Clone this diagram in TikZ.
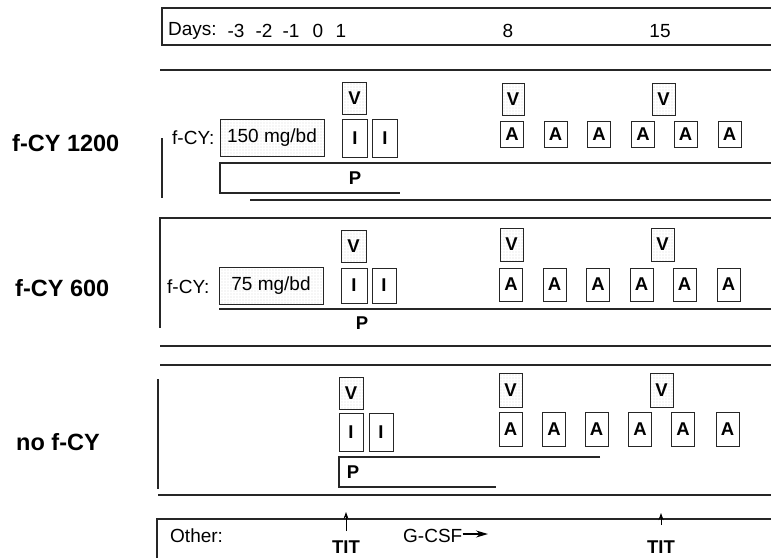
\documentclass[tikz,border=0pt]{standalone}
\usepackage{fontspec}
\setmainfont{Liberation Sans}
\usetikzlibrary{patterns.meta,arrows.meta}
\tikzset{
  frame/.style={line width=1.1pt, black!85},
  grp/.style={font=\fontsize{23.5}{26}\selectfont\bfseries, anchor=west, inner sep=0pt},
  txt/.style={font=\fontsize{19}{21}\selectfont, inner sep=0pt},
  boxbase/.style={draw=black!85, line width=0.9pt, inner sep=0pt, font=\fontsize{18.5}{20}\selectfont\bfseries},
  vbox/.style={boxbase, pattern={Dots[distance=3pt,radius=0.4pt]}, pattern color=black!45, minimum width=24pt, minimum height=32pt},
  ibox/.style={boxbase, minimum width=25pt, minimum height=37pt},
  abox/.style={boxbase, minimum width=23pt},
  dosebox/.style={draw=black!85, line width=0.9pt, inner sep=0pt, pattern={Dots[distance=3pt,radius=0.4pt]}, pattern color=black!45, minimum width=104pt, minimum height=37pt, font=\fontsize{19}{21}\selectfont},
  bold/.style={font=\fontsize{18.5}{20}\selectfont\bfseries, inner sep=0pt},
  uparrow/.style={line width=0.9pt, -{Stealth[length=7pt,width=5pt]}},
  rarrow/.style={line width=1.3pt, -{Stealth[length=12pt,width=7pt]}}
}
\begin{document}
\begin{tikzpicture}[x=1pt,y=-1pt]
\useasboundingbox (0,0) rectangle (771,558);

% ---- Days box
\draw[frame] (771,8) -- (162,8) -- (162,45) -- (771,45);
\node[txt, anchor=west] (days) at (168,31) {Days:};
\node[txt] (dm3) at (236,31) {-3};
\node[txt] (dm2) at (264,31) {-2};
\node[txt] (dm1) at (291,31) {-1};
\node[txt] (d0) at (318,31) {0};
\node[txt] (d1) at (341,31) {1};
\node[txt] (d8) at (508,31) {8};
\node[txt] (d15) at (660,31) {15};

% ---- Section 1: f-CY 1200
\draw[frame] (160,70) -- (771,70);
\draw[frame] (162,138) -- (162,198);
\draw[frame] (250,200) -- (771,200);
\node[grp] (g1) at (12,143) {f-CY 1200};
\node[txt, anchor=west] (f1) at (172,138) {f-CY:};
\node[dosebox] (dose1) at (272,138) {150 mg/bd};
\node[vbox] (v1a) at (354.5,98.5) {V};
\node[ibox, minimum height=38pt] (i1a) at (355,138) {I};
\node[ibox, minimum height=38pt] (i1b) at (385,138) {I};
\node[vbox, minimum width=22pt] (v1b) at (513,99) {V};
\node[vbox, minimum width=23pt] (v1c) at (663.5,99.5) {V};
\foreach \x [count=\k] in {512,555.5,599,643,685.5,729.5}
  \node[abox, minimum height=26pt] (a1\k) at (\x,134) {A};
\draw[frame] (771,163) -- (220,163) -- (220,193) -- (400,193);
\node[bold] (p1) at (355,178) {P};

% ---- Section 2: f-CY 600
\draw[frame] (771,218) -- (160,218) -- (160,328);
\draw[frame] (160,346) -- (771,346);
\node[grp] (g2) at (15,288) {f-CY 600};
\node[txt, anchor=west] (f2) at (167,287) {f-CY:};
\node[dosebox] (dose2) at (271,285.5) {75 mg/bd};
\node[vbox, minimum width=25pt] (v2a) at (353.5,246.5) {V};
\node[ibox, minimum width=26pt, minimum height=35pt] (i2a) at (354,285.5) {I};
\node[ibox, minimum width=24pt, minimum height=35pt] (i2b) at (384,285.5) {I};
\node[vbox, minimum width=23pt, minimum height=33pt] (v2b) at (511.5,244.5) {V};
\node[vbox, minimum width=23pt, minimum height=33pt] (v2c) at (662.5,244.5) {V};
\foreach \x [count=\k] in {511,554.5,598,641.5,684.5,728.5}
  \node[abox, minimum height=33pt] (a2\k) at (\x,284.5) {A};
\draw[frame] (219,309) -- (771,309);
\node[bold] (p2) at (362,323) {P};

% ---- Section 3: no f-CY
\draw[frame] (160,365) -- (771,365);
\draw[frame] (158,379) -- (158,489);
\draw[frame] (158,495) -- (771,495);
\node[grp] (g3) at (16,442) {no f-CY};
\node[vbox] (v3a) at (351,393) {V};
\node[ibox, minimum width=24pt, minimum height=38pt] (i3a) at (351,432) {I};
\node[ibox, minimum width=24pt, minimum height=38pt] (i3b) at (381,432) {I};
\node[vbox, minimum width=23pt, minimum height=34pt] (v3b) at (510.5,390) {V};
\node[vbox, minimum width=23pt, minimum height=34pt] (v3c) at (661.5,390) {V};
\foreach \x [count=\k] in {510.5,554,596.5,640,683,727.5}
  \node[abox, minimum height=34pt] (a3\k) at (\x,429) {A};
\draw[frame] (600,457) -- (339,457) -- (339,487) -- (496,487);
\node[bold] (p3) at (353,472) {P};

% ---- Other box
\draw[frame] (771,519) -- (157,519) -- (157,558);
\node[txt, anchor=west] (other) at (170,536) {Other:};
\node[bold] (tit1) at (346,547) {TIT};
\node[bold] (tit2) at (661,547) {TIT};
\node[txt, anchor=west] (gcsf) at (403,536) {G-CSF};
\coordinate (t1s) at (346,531);
\coordinate (t1e) at (346,512);
\coordinate (t2s) at (661,525);
\coordinate (t2e) at (661,513);
\coordinate (ge) at (488,534);
\draw[uparrow] (t1s) -- (t1e);
\draw[uparrow] (t2s) -- (t2e);
\draw[rarrow] (gcsf.east |- ge) -- (ge);
\end{tikzpicture}
\end{document}
